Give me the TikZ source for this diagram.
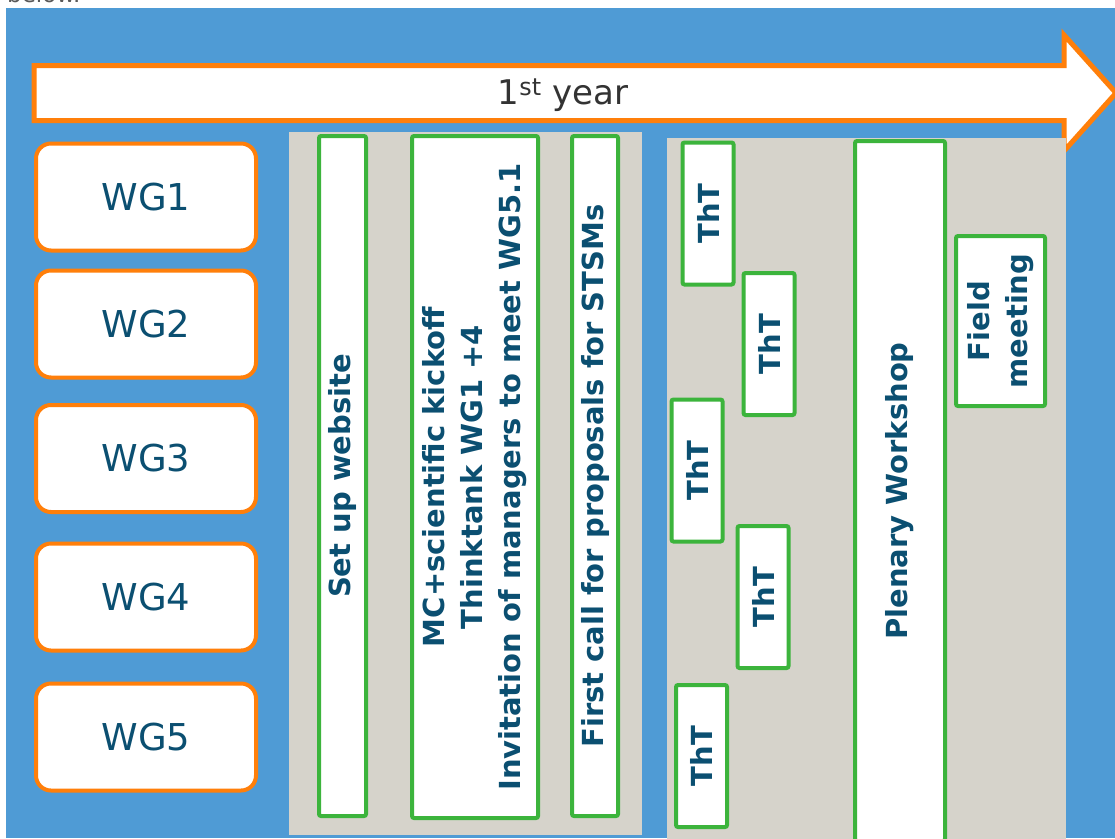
\documentclass[tikz,border=0pt]{standalone}
\usepackage{fontspec}
\setmainfont{DejaVu Sans}
\usetikzlibrary{positioning}

\definecolor{bgblue}{HTML}{4F9BD5}
\definecolor{panelgray}{HTML}{D6D3CB}
\definecolor{wgorange}{HTML}{FF7F0A}
\definecolor{taskgreen}{HTML}{3CB43C}
\definecolor{labelblue}{HTML}{0B4F71}
\definecolor{notegray}{HTML}{595959}

\begin{document}
\begin{tikzpicture}[
  x=1pt, y=-1pt,
  wg/.style={draw=wgorange, line width=4pt, fill=white, rounded corners=15pt, minimum width=220pt, minimum height=107pt, text=labelblue, font=\fontsize{37}{44}\selectfont},
  task/.style={draw=taskgreen, line width=4pt, fill=white, rounded corners=2pt, rotate=90, inner sep=0pt, align=center, text=labelblue, font=\bfseries\fontsize{29}{38}\selectfont},
  tht/.style={task, minimum width=142pt, minimum height=51pt},
  yeararrow/.style={draw=wgorange, line width=5pt, fill=white}
]
  \useasboundingbox (0,0) rectangle (1115,838);
  \clip (0,0) rectangle (1115,838);
  \fill[white] (0,0) rectangle (1115,838);
  \node[anchor=base west, inner sep=0pt, text=notegray, font=\fontsize{23}{28}\selectfont] (below) at (7,2.5) {below.};
  \fill[bgblue] (6,8) rectangle (1115,838);

  % time arrow
  \draw[yeararrow] (34,65.5) -- (1064,65.5) -- (1064,35) -- (1116,93) -- (1064,151) -- (1064,120.5) -- (34,120.5) -- cycle;
  \node[text=black!80, font=\fontsize{34}{40}\selectfont] (year) at (563,95) {1\textsuperscript{st} year};

  % working groups
  \node[wg] (wg1) at (146,197) {WG1};
  \node[wg] (wg2) at (146,324) {WG2};
  \node[wg] (wg3) at (146,458.5) {WG3};
  \node[wg] (wg4) at (146,597) {WG4};
  \node[wg] (wg5) at (146,737) {WG5};

  % grey panels
  \fill[panelgray] (289,132) rectangle (642,835);
  \fill[panelgray] (667,138) rectangle (1066,840);

  % first half
  \node[task, minimum width=680pt, minimum height=47pt] (website) at (342.5,476) {Set up website};
  \node[task, minimum width=682pt, minimum height=126pt] (kickoff) at (475,477) {MC+scientific kickoff\\Thinktank WG1 +4\\Invitation of managers to meet WG5.1};
  \node[task, minimum width=680pt, minimum height=46pt] (stsm) at (595,476) {First call for proposals for STSMs};

  % second half
  \node[tht] (tht1) at (708,213.5) {ThT};
  \node[tht] (tht2) at (769,344) {ThT};
  \node[tht] (tht3) at (697,470.5) {ThT};
  \node[tht] (tht4) at (763,597) {ThT};
  \node[tht] (tht5) at (701.5,756) {ThT};
  \node[task, minimum width=700pt, minimum height=90pt] (plenary) at (900,491) {Plenary Workshop};
  \node[task, minimum width=170pt, minimum height=89pt] (field) at (1000.5,321) {Field\\meeting};
\end{tikzpicture}
\end{document}
